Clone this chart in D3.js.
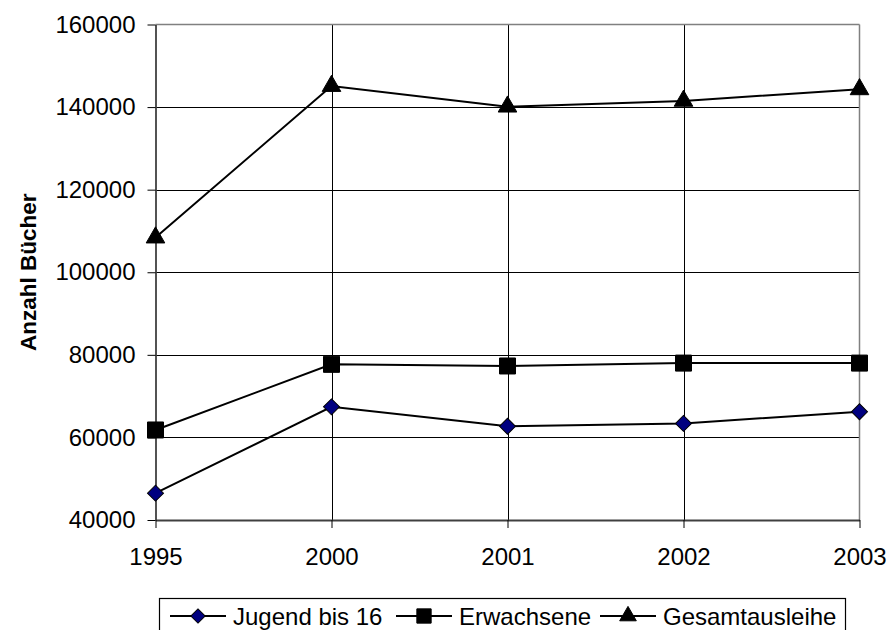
<!DOCTYPE html>
<html><head><meta charset="utf-8">
<script src="https://cdn.jsdelivr.net/npm/d3@7"></script>
<style>body{margin:0;background:#fff}svg{display:block}</style>
</head><body>
<script>
const categories = ["1995","2000","2001","2002","2003"];
const jugend = [46500, 67400, 62700, 63400, 66200];
const erwachsene = [61800, 77700, 77300, 78000, 78000];
const gesamt = [108400, 145100, 140100, 141500, 144300];
const yTicks = [40000, 60000, 80000, 100000, 120000, 140000, 160000];
const seriesNames = ["Jugend bis 16", "Erwachsene", "Gesamtausleihe"];

const W = 888, H = 630;
const svg = d3.select("body").append("svg").attr("width", W).attr("height", H);
const font = "Liberation Sans, Arial, sans-serif";
const L = 155.5, R = 859.5, T = 24.5, B = 520;

const x = d3.scalePoint().domain(categories).range([L, R]);
const y = d3.scaleLinear().domain([40000, 160000]).range([B, T]);

// grid
svg.append("g").selectAll("line").data(yTicks.slice(1, -1)).join("line")
  .attr("x1", L).attr("x2", R).attr("y1", d => Math.round(y(d)) + 0.5).attr("y2", d => Math.round(y(d)) + 0.5)
  .attr("stroke", "#000").attr("stroke-width", 1);
svg.append("g").selectAll("line").data(categories.slice(1, -1)).join("line")
  .attr("x1", d => Math.round(x(d)) + 0.5).attr("x2", d => Math.round(x(d)) + 0.5).attr("y1", T).attr("y2", B)
  .attr("stroke", "#000").attr("stroke-width", 1);
// top/right border
svg.append("line").attr("x1", L).attr("x2", R).attr("y1", T).attr("y2", T).attr("stroke", "#808080").attr("stroke-width", 1.5);
svg.append("line").attr("x1", R).attr("x2", R).attr("y1", T).attr("y2", B).attr("stroke", "#808080").attr("stroke-width", 1.5);

// axes
const yAxis = d3.axisLeft(y).tickValues(yTicks).tickSizeInner(8).tickSizeOuter(0).tickPadding(12).tickFormat(d3.format("d"));
const gy = svg.append("g").attr("transform", `translate(${L},0)`).call(yAxis);
const xAxis = d3.axisBottom(x).tickSizeInner(8).tickSizeOuter(0).tickPadding(37);
const gx = svg.append("g").attr("transform", `translate(0,${B})`).call(xAxis);
[gy, gx].forEach(g => {
  g.select(".domain").attr("stroke", "#404040").attr("stroke-width", 1.8);
  g.selectAll(".tick line").attr("stroke", "#000").attr("stroke-width", 1);
  g.selectAll("text").attr("font-family", font).attr("font-size", 24).attr("fill", "#000");
});
gx.selectAll("text").attr("dy", "0");

// y title
svg.append("text").attr("transform", `translate(36,${(T + B) / 2}) rotate(-90)`)
  .attr("text-anchor", "middle").attr("font-family", font).attr("font-weight", "bold").attr("font-size", 22.5)
  .text("Anzahl Bücher");

// series
const data = [jugend, erwachsene, gesamt];
const line = d3.line().x((d, i) => x(categories[i])).y(d => y(d));
const sym = [d3.symbolSquare, d3.symbolSquare, d3.symbolTriangle];
const symSize = [128, 256, 150];
const rot = [45, 0, 0];
const fills = ["#000080", "#000", "#000"];
data.forEach((s, k) => {
  svg.append("path").datum(s).attr("d", line).attr("fill", "none").attr("stroke", "#000").attr("stroke-width", 2);
});
data.forEach((s, k) => {
  svg.append("g").selectAll("path").data(s).join("path")
    .attr("d", d3.symbol(sym[k], symSize[k]))
    .attr("transform", (d, i) => `translate(${x(categories[i])},${y(d)}) rotate(${rot[k]})`)
    .attr("fill", fills[k]).attr("stroke", "#000").attr("stroke-width", 1);
});

// legend
const lg = svg.append("g");
lg.append("rect").attr("x", 159.5).attr("y", 598.5).attr("width", 686).attr("height", 40)
  .attr("fill", "#fff").attr("stroke", "#000").attr("stroke-width", 1.2);
const itemX = [170, 396, 600];
const ly = 616;
seriesNames.forEach((n, k) => {
  const g = lg.append("g").attr("transform", `translate(${itemX[k]},${ly})`);
  g.append("line").attr("x1", 0).attr("x2", 56).attr("stroke", "#000").attr("stroke-width", 2);
  g.append("path").attr("d", d3.symbol(sym[k], symSize[k] * 0.8)).attr("transform", `translate(28,0) rotate(${rot[k]})`)
    .attr("fill", fills[k]).attr("stroke", "#000").attr("stroke-width", 1);
  g.append("text").attr("x", 63).attr("y", 9).attr("font-family", font).attr("font-size", 24).text(n);
});
</script>
</body></html>
